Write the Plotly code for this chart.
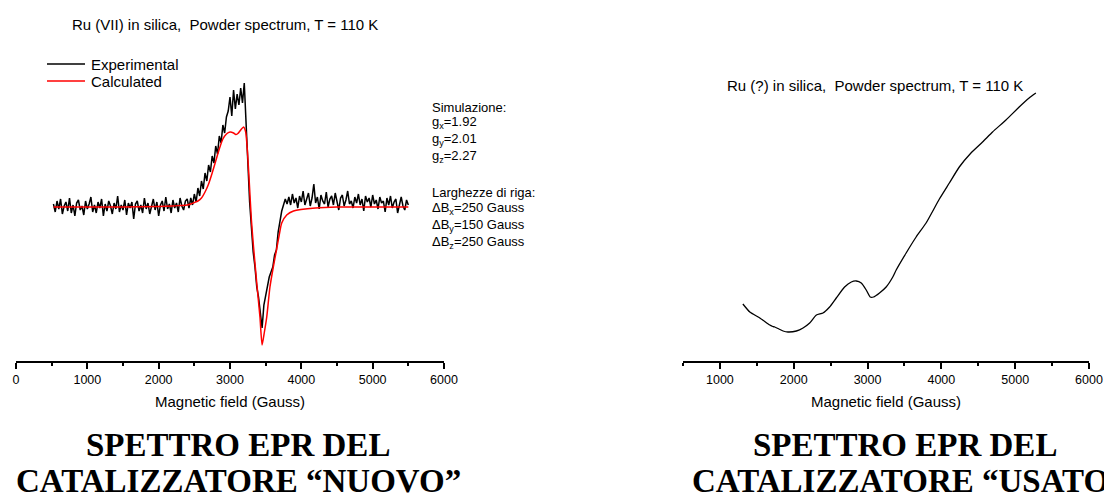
import numpy as np
import plotly.graph_objects as go

W, H = 1104, 498

# ---------- Ru (VII) catalyst: experimental trace, sampled every 25 G ----------
exp_field = np.arange(525, 5501, 25)
exp_signal = [
    # 525 - 2375 G : baseline
    0.3, -0.5, 0.6, -0.2, 0.8, -0.7, 0.1, 0.5, -0.4, 0.9, -0.6, 0.2, -0.9, 0.4, 0.7, -0.3, 0.1, -0.8, 0.6, -0.2,
    0.3, 1.0, -0.5, 0.2, -0.6, 0.5, -0.1, 0.8, -0.9, 0.3, -0.4, 0.6, 0.1, -0.7, 0.4, -0.2, 1.1, -0.5, 0.2, -0.3,
    0.7, -0.8, 0.4, -0.1, 0.5, -1.2, 0.3, 0.6, -0.4, 0.2, -0.6, 0.9, -0.2, 0.4, -0.7, 0.1, 0.8, -0.3, 0.5, -0.9,
    0.2, 0.6, -0.4, 1.0, -0.2, 0.3, -0.6, 0.7, -0.1, 0.4, -0.5, 0.9, 0.1, -0.3, 0.6,
    # 2400 - 2950 G : low-field rise
    0.8, -0.1, 0.9, 0.2, 1.3, 0.5, 1.9, 1.1, 2.6, 1.8, 3.4, 2.6, 4.2, 3.5, 5.1, 4.4, 6.1, 5.3, 7.1, 6.4,
    8.2, 7.4, 9.0,
    # 2975 - 3225 G : positive lobe
    9.6, 11.0, 9.1, 11.7, 9.8, 11.3, 10.2, 11.9, 10.4, 12.4, 9.0,
    # 3250 - 3700 G : crossing and negative lobe
    4.5, 0.5, -2.5, -4.5, -6.0, -8.0, -9.0, -10.5, -12.1, -9.8, -8.8, -8.2, -7.0, -6.5, -6.0, -4.8, -4.3,
    -2.5, -1.2,
    # 3725 - 5500 G : high-field baseline
    -0.4, 0.2, 0.8, 0.3, 1.0, 0.2, 1.3, 0.4, 0.9, -0.1,
    1.1, 0.5, 1.6, 0.2, 0.8, 1.4, 0.1, 0.9, 2.3, 0.4,
    1.0, -0.2, 1.2, 0.6, 0.3, 1.5, 0.0, 0.8, 1.1, 0.2,
    1.4, 0.5, -0.3, 0.9, 1.2, 0.1, 0.7, 1.6, 0.3, 0.6,
    -0.1, 1.0, 0.4, 1.3, 0.2, 0.8, -0.4, 1.1, 0.5, 0.9,
    0.0, 1.2, 0.3, 0.7, -0.2, 1.0, 0.4, 0.6, -0.5, 0.9,
    0.2, 1.1, -0.1, 0.5, 0.8, -0.6, 0.4, 1.0, 0.1, -0.3,
    0.7, 0.2,
]

# ---------- Ru (VII) catalyst: simulated powder spectrum ----------
calc_field = [525, 1500, 2000, 2200, 2300, 2400, 2450, 2500, 2550, 2600, 2650, 2700, 2750, 2800,
              2850, 2900, 2950, 3000, 3050, 3080, 3110, 3150, 3190, 3220, 3245, 3270, 3300, 3330,
              3375, 3420, 3450, 3480, 3515, 3560, 3607, 3654, 3690, 3725, 3795, 3890, 4200, 4500, 5500]
calc_signal = [0.0, 0.0, 0.05, 0.1, 0.15, 0.2, 0.3, 0.45, 0.6, 0.9, 1.5, 2.3, 3.4, 4.6,
               5.8, 6.8, 7.3, 7.5, 7.4, 7.25, 7.35, 7.7, 8.0, 7.5, 5.5, 2.5, -1.3, -4.0,
               -7.6, -11.0, -13.8, -12.6, -11.0, -8.0, -6.0, -4.2, -2.8, -1.6, -0.8, -0.4, -0.1, 0.0, 0.0]

# ---------- used catalyst: experimental trace ----------
used_field = [1311, 1405, 1541, 1676, 1716, 1743, 1800, 1856, 1923, 2036, 2126, 2216, 2307, 2396,
              2486, 2576, 2689, 2780, 2847, 2915, 2982, 3036, 3081, 3162, 3252, 3342, 3388, 3523,
              3658, 3793, 3973, 4108, 4243, 4401, 4558, 4693, 4875, 5054, 5189, 5280]
used_signal = [0.57, 0.49, 0.43, 0.36, 0.345, 0.34, 0.32, 0.30, 0.29, 0.30, 0.33, 0.38, 0.46, 0.48,
               0.54, 0.63, 0.74, 0.79, 0.80, 0.78, 0.71, 0.64, 0.64, 0.68, 0.74, 0.84, 0.91, 1.08,
               1.24, 1.38, 1.62, 1.78, 1.94, 2.08, 2.19, 2.29, 2.41, 2.54, 2.63, 2.68]

tick_values = [0, 1000, 2000, 3000, 4000, 5000, 6000]

simulation_lines = [
    "Simulazione:",
    "g<sub>x</sub>=1.92",
    "g<sub>y</sub>=2.01",
    "g<sub>z</sub>=2.27",
    "Larghezze di riga:",
    "ΔB<sub>x</sub>=250 Gauss",
    "ΔB<sub>y</sub>=150 Gauss",
    "ΔB<sub>z</sub>=250 Gauss",
]

FONT = "Arial, Liberation Sans, sans-serif"
SERIF = "Times New Roman, Liberation Serif, serif"


def px_x(p):
    return p / W


def px_y(p):
    return 1 - p / H


fig = go.Figure()
fig.add_trace(go.Scatter(x=exp_field, y=exp_signal, mode="lines", name="Experimental",
                         line=dict(color="black", width=1.5), xaxis="x", yaxis="y"))
fig.add_trace(go.Scatter(x=calc_field, y=calc_signal, mode="lines", name="Calculated",
                         line=dict(color="#ff0000", width=1.5, shape="spline", smoothing=0.6),
                         xaxis="x", yaxis="y"))
fig.add_trace(go.Scatter(x=used_field, y=used_signal, mode="lines", name="Ru (?)",
                         line=dict(color="black", width=1.3, shape="spline", smoothing=0.5),
                         xaxis="x2", yaxis="y2"))

y_dom = [px_y(361), px_y(60)]
xaxis_common = dict(
    automargin=False,
    showline=True, linecolor="black", linewidth=1.5,
    ticks="outside", ticklen=6, tickwidth=1.5, tickcolor="black",
    tickvals=tick_values, showgrid=False, zeroline=False,
    tickfont=dict(family=FONT, size=12.5, color="black"),
    minor=dict(ticks="outside", ticklen=3, tickwidth=1.5, tickcolor="black", dtick=500, showgrid=False),
    title=dict(text="Magnetic field (Gauss)", font=dict(family=FONT, size=15, color="black"), standoff=11),
)
fig.update_layout(
    width=W, height=H,
    margin=dict(l=0, r=0, t=0, b=0, autoexpand=False),
    paper_bgcolor="white", plot_bgcolor="white",
    font=dict(family=FONT, color="black"),
    xaxis=dict(domain=[px_x(16), px_x(444)], range=[0, 6000], anchor="y", **xaxis_common),
    yaxis=dict(domain=y_dom, range=[-15.4, 14.7], visible=False, automargin=False),
    xaxis2=dict(domain=[px_x(683), px_x(1089)], range=[500, 6000], anchor="y2", **xaxis_common),
    yaxis2=dict(domain=y_dom, range=[0, 3.01], visible=False, automargin=False),
    showlegend=False,
)

annotations = []

# key for the two left-panel traces
for trace, y_pos in ((fig.data[0], 64), (fig.data[1], 81)):
    fig.add_shape(type="line", xref="paper", yref="paper",
                  x0=px_x(47), x1=px_x(85), y0=px_y(y_pos), y1=px_y(y_pos),
                  line=dict(color=trace.line.color, width=1.5))
    annotations.append(dict(text=trace.name, x=px_x(89), y=px_y(y_pos), xanchor="left",
                            font=dict(family=FONT, size=15)))

annotations += [
    dict(text="Ru (VII) in silica,  Powder spectrum, T = 110 K", x=px_x(225), y=px_y(25),
         font=dict(family=FONT, size=15)),
    dict(text="Ru (?) in silica,  Powder spectrum, T = 110 K", x=px_x(875), y=px_y(85),
         font=dict(family=FONT, size=15)),
    dict(text="<b>SPETTRO EPR DEL</b>", x=px_x(238), y=px_y(445),
         font=dict(family=SERIF, size=33)),
    dict(text="<b>CATALIZZATORE “NUOVO”</b>", x=px_x(238), y=px_y(481), height=32,
         font=dict(family=SERIF, size=33)),
    dict(text="<b>SPETTRO EPR DEL</b>", x=px_x(905), y=px_y(445),
         font=dict(family=SERIF, size=33)),
    # the second line runs past the right edge of the page and is clipped there
    dict(text="<b>CATALIZZATORE “USATO”</b>", x=px_x(690), y=px_y(481), xanchor="left",
         width=W - 690, height=32, align="left",
         font=dict(family=SERIF, size=33)),
]
line_y = [107, 123, 140, 157, 192, 208, 225, 242]
for txt, yp in zip(simulation_lines, line_y):
    annotations.append(dict(text=txt, x=px_x(430), y=px_y(yp), xanchor="left",
                            font=dict(family=FONT, size=13)))

for a in annotations:
    a.setdefault("xanchor", "center")
    a.setdefault("yanchor", "middle")
    fig.add_annotation(xref="paper", yref="paper", showarrow=False, **a)

# keep the page exactly the size of the figure (no scrollbars)
fig.write_html(
    "out.html",
    post_script="document.body.style.margin='0';document.body.style.overflow='hidden';",
)
